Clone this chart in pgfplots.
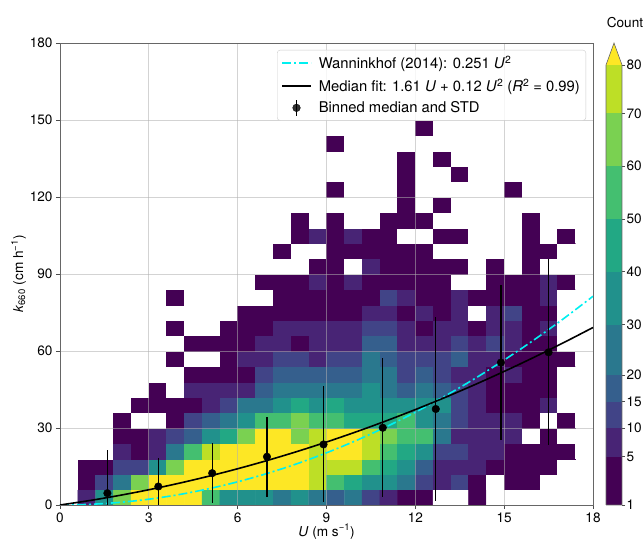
\documentclass[border=0pt]{standalone}
\usepackage{pgfplots}
\pgfplotsset{compat=1.18}
\usepackage{fontspec}
\setmainfont{TeX Gyre Heros}
\definecolor{v0}{HTML}{440154}
\definecolor{v1}{HTML}{482475}
\definecolor{v2}{HTML}{414487}
\definecolor{v3}{HTML}{355F8D}
\definecolor{v4}{HTML}{2A788E}
\definecolor{v5}{HTML}{21918C}
\definecolor{v6}{HTML}{22A884}
\definecolor{v7}{HTML}{44BF70}
\definecolor{v8}{HTML}{7AD151}
\definecolor{v9}{HTML}{BDDF26}
\definecolor{v10}{HTML}{FDE725}
\definecolor{gridc}{HTML}{B0B0B0}
\definecolor{wcyan}{HTML}{00F0F0}
\begin{document}
\begin{tikzpicture}[font=\fontsize{13.6}{16}\selectfont]
\pgfplotsset{set layers}
\begin{axis}[
  at={(0pt,0pt)}, anchor=south west,
  scale only axis, width=533pt, height=462pt,
  xmin=0, xmax=18, ymin=0, ymax=180,
  xtick={0,3,6,9,12,15,18}, ytick={0,30,60,90,120,150,180},
  /pgf/number format/assume math mode=true,
  grid=major,
  grid style={draw=gridc, draw opacity=0.55, line width=0.8pt},
  axis line style={draw=black!60, line width=0.8pt},
  tick align=outside, tick pos=left,
  major tick length=4pt,
  tick style={black!70, line width=0.8pt},
  xlabel={\textit{U} (m s\textsuperscript{−1})},
  xlabel style={yshift=5pt},
  ylabel={\textit{k}\textsubscript{660} (cm h\textsuperscript{−1})},
  ylabel style={yshift=-3pt},
  colormap={hist}{color(0cm)=(white) color(1cm)=(v0) color(2cm)=(v1) color(3cm)=(v2) color(4cm)=(v3) color(5cm)=(v4) color(6cm)=(v5) color(7cm)=(v6) color(8cm)=(v7) color(9cm)=(v8) color(10cm)=(v9) color(11cm)=(v10) color(12cm)=(v10)},
  colormap access=piecewise constant,
  point meta min=-0.5, point meta max=11.5,
  legend image code/.code={\draw[#1] (0pt,0pt) -- (29pt,0pt);},
  legend style={at={(0.987,0.985)}, anchor=north east, draw=black!20, rounded corners=3pt, fill=white, fill opacity=0.8, text opacity=1, inner xsep=4pt, inner ysep=4pt, row sep=4.5pt, column sep=5pt, font=\fontsize{14.8}{17}\selectfont},
  legend cell align=left,
]
\addplot[matrix plot*, on layer=axis background, mesh/cols=30, point meta=explicit, forget plot]
 table[header=false, row sep=\\, x expr={mod(\coordindex,30)*0.6+0.3}, y expr={floor(\coordindex/30)*6+3}, meta index=0] {
0\\2\\6\\9\\11\\11\\11\\11\\8\\6\\6\\6\\5\\6\\5\\4\\5\\3\\2\\1\\1\\0\\0\\1\\0\\0\\0\\0\\0\\0\\
0\\1\\3\\5\\9\\11\\11\\11\\11\\11\\11\\11\\11\\11\\10\\8\\7\\6\\6\\5\\3\\2\\3\\1\\0\\1\\1\\0\\0\\0\\
0\\1\\1\\3\\3\\6\\9\\11\\11\\11\\11\\11\\11\\11\\10\\10\\10\\8\\7\\6\\4\\2\\2\\2\\1\\1\\1\\1\\0\\0\\
0\\0\\0\\2\\1\\2\\5\\8\\10\\11\\11\\11\\11\\11\\10\\11\\11\\10\\8\\7\\6\\3\\3\\2\\2\\1\\1\\1\\1\\0\\
0\\0\\0\\1\\1\\2\\3\\4\\6\\7\\9\\11\\11\\9\\10\\11\\11\\10\\9\\8\\8\\5\\2\\2\\2\\2\\0\\1\\0\\0\\
0\\0\\0\\1\\0\\0\\1\\3\\4\\5\\6\\8\\8\\9\\8\\8\\7\\7\\7\\8\\6\\5\\3\\2\\2\\2\\1\\0\\1\\0\\
0\\0\\0\\0\\1\\1\\1\\1\\2\\3\\5\\5\\6\\7\\6\\7\\6\\6\\6\\6\\6\\6\\3\\2\\1\\1\\1\\2\\0\\0\\
0\\0\\0\\0\\0\\1\\0\\2\\2\\2\\2\\4\\5\\5\\5\\5\\5\\6\\5\\4\\5\\4\\3\\2\\1\\1\\1\\1\\0\\0\\
0\\0\\0\\0\\0\\0\\0\\1\\1\\1\\1\\3\\4\\4\\4\\4\\4\\5\\5\\3\\4\\3\\2\\2\\1\\2\\1\\1\\0\\0\\
0\\0\\0\\0\\0\\0\\1\\0\\0\\1\\2\\2\\3\\3\\2\\3\\3\\5\\4\\3\\3\\3\\4\\2\\2\\1\\1\\1\\1\\0\\
0\\0\\0\\0\\0\\0\\0\\1\\1\\1\\1\\2\\2\\1\\2\\2\\2\\4\\4\\2\\2\\2\\3\\2\\3\\2\\1\\1\\0\\0\\
0\\0\\0\\0\\0\\0\\1\\0\\0\\1\\1\\1\\2\\2\\2\\2\\2\\3\\3\\2\\1\\2\\2\\1\\2\\2\\1\\2\\0\\0\\
0\\0\\0\\0\\0\\0\\0\\0\\0\\0\\1\\1\\1\\1\\1\\1\\1\\2\\2\\1\\2\\1\\2\\0\\2\\3\\1\\1\\0\\0\\
0\\0\\0\\0\\0\\0\\1\\0\\0\\0\\0\\0\\1\\1\\1\\1\\1\\1\\3\\2\\1\\1\\2\\1\\1\\1\\1\\2\\0\\0\\
0\\0\\0\\0\\0\\0\\0\\0\\0\\0\\0\\1\\1\\1\\2\\1\\2\\1\\1\\1\\1\\1\\0\\0\\1\\1\\1\\2\\1\\0\\
0\\0\\0\\0\\0\\0\\0\\0\\0\\0\\0\\0\\0\\0\\1\\1\\0\\2\\1\\1\\1\\1\\1\\0\\1\\0\\1\\0\\0\\0\\
0\\0\\0\\0\\0\\0\\0\\0\\0\\0\\0\\0\\1\\0\\0\\1\\1\\1\\1\\1\\1\\0\\0\\0\\0\\0\\1\\1\\0\\0\\
0\\0\\0\\0\\0\\0\\0\\0\\0\\0\\0\\0\\0\\1\\2\\1\\2\\1\\1\\0\\0\\1\\1\\0\\0\\0\\1\\0\\1\\0\\
0\\0\\0\\0\\0\\0\\0\\0\\0\\0\\0\\0\\0\\1\\0\\1\\0\\0\\1\\1\\1\\0\\0\\0\\0\\0\\1\\0\\0\\0\\
0\\0\\0\\0\\0\\0\\0\\0\\0\\0\\0\\0\\0\\0\\0\\0\\0\\0\\0\\1\\0\\1\\0\\0\\0\\0\\0\\0\\0\\0\\
0\\0\\0\\0\\0\\0\\0\\0\\0\\0\\0\\0\\0\\0\\0\\1\\0\\0\\0\\1\\0\\0\\0\\0\\0\\1\\0\\0\\0\\0\\
0\\0\\0\\0\\0\\0\\0\\0\\0\\0\\0\\0\\0\\0\\0\\0\\0\\0\\0\\1\\0\\0\\1\\0\\0\\0\\0\\0\\0\\0\\
0\\0\\0\\0\\0\\0\\0\\0\\0\\0\\0\\0\\0\\0\\0\\0\\0\\0\\0\\1\\0\\1\\0\\0\\0\\0\\0\\0\\0\\0\\
0\\0\\0\\0\\0\\0\\0\\0\\0\\0\\0\\0\\0\\0\\0\\1\\0\\0\\0\\0\\0\\0\\0\\0\\0\\0\\0\\0\\0\\0\\
0\\0\\0\\0\\0\\0\\0\\0\\0\\0\\0\\0\\0\\0\\0\\0\\0\\0\\0\\0\\1\\0\\0\\0\\0\\0\\0\\0\\0\\0\\
0\\0\\0\\0\\0\\0\\0\\0\\0\\0\\0\\0\\0\\0\\0\\0\\0\\0\\0\\0\\0\\0\\0\\0\\0\\0\\0\\0\\0\\0\\
0\\0\\0\\0\\0\\0\\0\\0\\0\\0\\0\\0\\0\\0\\0\\0\\0\\0\\0\\0\\0\\0\\0\\0\\0\\0\\0\\0\\0\\0\\
0\\0\\0\\0\\0\\0\\0\\0\\0\\0\\0\\0\\0\\0\\0\\0\\0\\0\\0\\0\\0\\0\\0\\0\\0\\0\\0\\0\\0\\0\\
0\\0\\0\\0\\0\\0\\0\\0\\0\\0\\0\\0\\0\\0\\0\\0\\0\\0\\0\\0\\0\\0\\0\\0\\0\\0\\0\\0\\0\\0\\
0\\0\\0\\0\\0\\0\\0\\0\\0\\0\\0\\0\\0\\0\\0\\0\\0\\0\\0\\0\\0\\0\\0\\0\\0\\0\\0\\0\\0\\0\\
};
\addplot[wcyan, line width=1.6pt, dash pattern=on 9pt off 3pt on 2pt off 3pt, smooth] coordinates {(0,0) (1,0.251) (2,1.004) (3,2.259) (4,4.016) (5,6.275) (6,9.036) (7,12.299) (8,16.064) (9,20.331) (10,25.1) (11,30.371) (12,36.144) (13,42.419) (14,49.196) (15,56.475) (16,64.256) (17,72.539) (18,81.324)};
\addlegendentry{Wanninkhof (2014): 0.251 \textit{U}\textsuperscript{2}}
\addplot[black, line width=1.6pt, smooth] coordinates {(0,0) (1,1.734) (2,3.716) (3,5.946) (4,8.424) (5,11.15) (6,14.124) (7,17.346) (8,20.816) (9,24.534) (10,28.5) (11,32.714) (12,37.176) (13,41.886) (14,46.844) (15,52.05) (16,57.504) (17,63.206) (18,69.156)};
\addlegendentry{Median fit: 1.61 \textit{U} + 0.12 \textit{U}\textsuperscript{2} (\textit{R}\textsuperscript{2} = 0.99)}
\addplot[only marks, mark=*, mark size=3.8pt, black,
  legend image code/.code={\draw[black, line width=1.2pt] (14.5pt,-8pt) -- (14.5pt,8pt); \fill[black] (14.5pt,0pt) circle (3.8pt); \path (0pt,0pt) (29pt,0pt);},
  error bars/.cd, y dir=both, y explicit, error mark=none, error bar style={line width=1.2pt, black}]
 table[x=x, y=y, y error=e] {
x y e
1.60 4.6 16.9
3.32 7.2 11.1
5.14 12.4 11.6
6.99 18.8 15.5
8.90 23.6 22.6
10.90 30.1 27.0
12.69 37.4 35.8
14.89 55.5 30.2
16.50 59.5 36.3
};
\addlegendentry{Binned median and STD}
\end{axis}
\begin{axis}[
  at={(546pt,0pt)}, anchor=south west,
  scale only axis, width=16pt, height=440pt,
  xmin=0, xmax=1, ymin=0, ymax=1,
  clip=false,
  axis line style={draw=none},
  xtick=\empty,
  ytick={0,0.11,0.175,0.235,0.295,0.41,0.53,0.65,0.77,0.89,1},
  yticklabels={1,5,10,15,20,30,40,50,60,70,80},
  ytick pos=right, yticklabel pos=right,
  tick align=outside, major tick length=3pt,
  tick style={black!70, line width=0.6pt},
  yticklabel style={xshift=-2pt},
  title={Count}, title style={yshift=28pt, xshift=11pt},
]
\addplot[fill=v0, draw=none] coordinates {(0,0) (1,0) (1,0.11) (0,0.11)};
\addplot[fill=v1, draw=none] coordinates {(0,0.11) (1,0.11) (1,0.175) (0,0.175)};
\addplot[fill=v2, draw=none] coordinates {(0,0.175) (1,0.175) (1,0.235) (0,0.235)};
\addplot[fill=v3, draw=none] coordinates {(0,0.235) (1,0.235) (1,0.295) (0,0.295)};
\addplot[fill=v4, draw=none] coordinates {(0,0.295) (1,0.295) (1,0.41) (0,0.41)};
\addplot[fill=v5, draw=none] coordinates {(0,0.41) (1,0.41) (1,0.53) (0,0.53)};
\addplot[fill=v6, draw=none] coordinates {(0,0.53) (1,0.53) (1,0.65) (0,0.65)};
\addplot[fill=v7, draw=none] coordinates {(0,0.65) (1,0.65) (1,0.77) (0,0.77)};
\addplot[fill=v8, draw=none] coordinates {(0,0.77) (1,0.77) (1,0.89) (0,0.89)};
\addplot[fill=v9, draw=none] coordinates {(0,0.89) (1,0.89) (1,1) (0,1)};
\addplot[fill=v10, draw=none] coordinates {(0,1) (1,1) (0.5,1.05)};
\addplot[draw=black!60, line width=0.6pt] coordinates {(0,0) (1,0) (1,1) (0.5,1.05) (0,1) (0,0)};
\end{axis}
\pgfresetboundingbox
\path[use as bounding box] (-60pt,-36pt) rectangle (583pt,505pt);
\end{tikzpicture}
\end{document}
